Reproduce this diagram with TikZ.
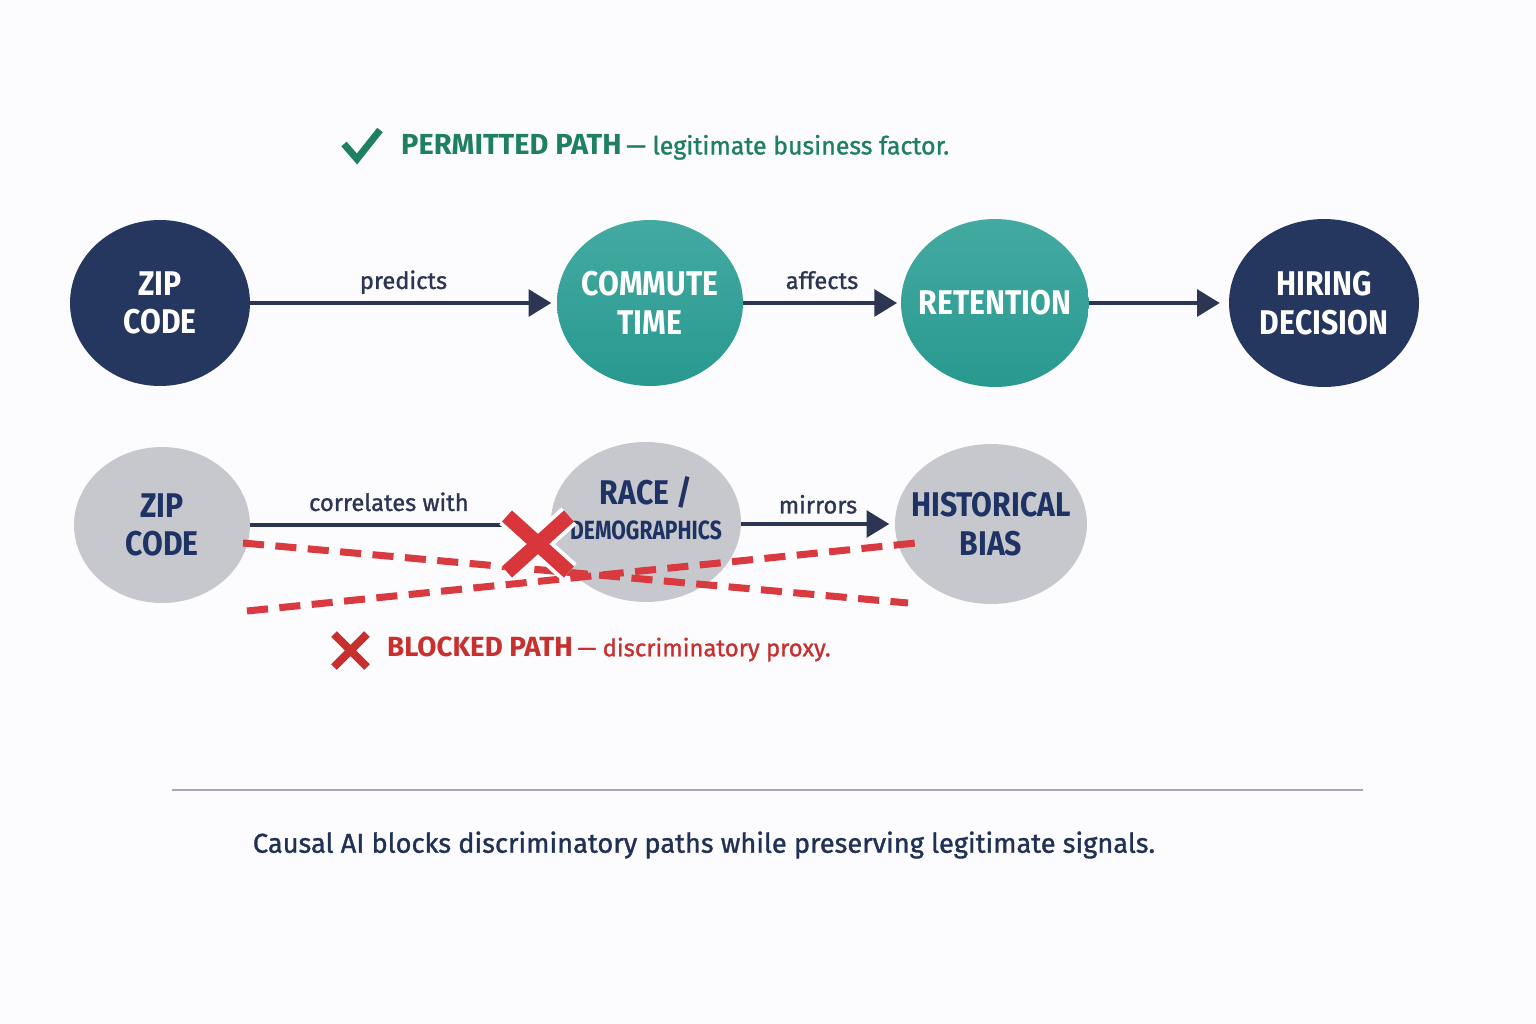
\documentclass[tikz,border=0pt]{standalone}
\usepackage{fontspec}
\setmainfont{Fira Sans}
\newfontfamily\nodefont[FakeStretch=0.88]{Fira Sans}
\newfontfamily\smallcapsfont[FakeStretch=0.8]{Fira Sans}
\newfontfamily\labelfont[FakeBold=1.2]{Fira Sans}
\usetikzlibrary{arrows.meta,shapes.geometric}

\definecolor{navy}{HTML}{25365F}
\definecolor{teal}{HTML}{2A9E94}
\definecolor{fog}{HTML}{C6C8CD}
\definecolor{ink}{HTML}{1E3264}
\definecolor{shaft}{HTML}{2C3652}
\definecolor{okgreen}{HTML}{1E7F62}
\definecolor{nored}{HTML}{C8302F}
\definecolor{dashred}{HTML}{D83A3F}
\definecolor{crossred}{HTML}{D8363A}
\definecolor{rule}{HTML}{A3A7B8}
\definecolor{paper}{HTML}{FCFCFE}

\tikzset{
  causenode/.style={ellipse, inner sep=0pt, draw=none},
  darknode/.style={causenode, fill=navy},
  tealnode/.style={causenode, top color=teal!88!white, bottom color=teal!97!black},
  fognode/.style={causenode, fill=fog},
  whitetext/.style={text=white, font=\nodefont\bfseries\fontsize{19.5}{22}\selectfont, align=center},
  inktext/.style={text=ink, font=\nodefont\bfseries\fontsize{19.5}{22}\selectfont, align=center},
  pathlink/.style={draw=shaft, line width=2.8pt},
  causearrow/.style={pathlink, -{Triangle[length=13pt,width=15pt]}},
  linklabel/.style={text=shaft, font=\labelfont\fontsize{13.5}{15}\selectfont, midway, anchor=base, yshift=8pt},
  proxyline/.style={draw=dashred, line width=4pt, dash pattern=on 12pt off 6.5pt},
}

\begin{document}
\begin{tikzpicture}[x=0.02cm, y=-0.02cm]
		%%%%% START %%%%%
		
		\fill[paper] (0, 0) rectangle (1536, 1024);
		\useasboundingbox (0, 0) rectangle (1536, 1024);
		
		% legend: permitted
		\draw[okgreen, line width=4pt, line join=miter] (344, 144) -- (357, 159) -- (380, 130);
		\node[anchor=west, text=okgreen] (okkey) at (395, 147)
			{{\bfseries\fontsize{16.5}{18}\selectfont PERMITTED PATH} {\labelfont\fontsize{14.2}{16}\selectfont — legitimate business factor.}};
		
		% permitted path
		\node[darknode, minimum width=3.6cm, minimum height=3.32cm,
			label={[whitetext]center:ZIP\\CODE}] (zipA) at (160, 303) {};
		\node[tealnode, minimum width=3.72cm, minimum height=3.32cm,
			label={[whitetext]center:COMMUTE\\TIME}] (commute) at (650, 303) {};
		\node[tealnode, minimum width=3.76cm, minimum height=3.36cm,
			label={[whitetext]center:RETENTION}] (retention) at (995, 303) {};
		\node[darknode, minimum width=3.8cm, minimum height=3.36cm,
			label={[whitetext]center:HIRING\\DECISION}] (hiring) at (1324, 303) {};
		
		\draw[causearrow, shorten >=3pt] (zipA.east) -- (commute.west) node[linklabel] {predicts};
		\draw[causearrow, shorten >=2pt] (commute.east) -- (retention.west) node[linklabel] {affects};
		\draw[causearrow, shorten >=5pt] (retention.east) -- (hiring.west);
		
		% blocked path
		\node[fognode, minimum width=3.52cm, minimum height=3.12cm,
			label={[inktext]center:ZIP\\CODE}] (zipB) at (162, 525) {};
		\node[fognode, minimum width=3.8cm, minimum height=3.2cm,
			label={[inktext, yshift=8pt]center:RACE /\\[-2pt]{\smallcapsfont\bfseries\fontsize{15}{17}\selectfont DEMOGRAPHICS}}] (race) at (646, 522) {};
		\node[fognode, minimum width=3.84cm, minimum height=3.2cm,
			label={[inktext]center:HISTORICAL\\BIAS}] (bias) at (991, 524) {};
		
		\coordinate (blockX) at (538, 544);
		\draw[pathlink, shorten >=14pt] (zipB.east) -- (zipB.east -| blockX) node[linklabel, xshift=-3pt] {correlates with};
		\draw[causearrow, shorten >=3pt] (race.east |- bias.west) -- (bias.west) node[linklabel, yshift=-2pt] {mirrors};
		
		\coordinate (proxyA) at (243, 543);
		\coordinate (proxyB) at (908, 603);
		\coordinate (proxyC) at (247, 611);
		\coordinate (proxyD) at (916, 543);
		\draw[proxyline] (proxyA) -- (proxyB);
		\draw[proxyline] (proxyC) -- (proxyD);
		
		\draw[white, line width=13pt] (507, 516) -- (569, 572) (569, 516) -- (507, 572);
		\draw[crossred, line width=8.5pt] (507, 516) -- (569, 572) (569, 516) -- (507, 572);
		
		% legend: blocked
		\draw[nored, line width=4.6pt] (334, 634) -- (367, 667) (367, 634) -- (334, 667);
		\node[anchor=west, text=nored] (nokey) at (381, 649)
			{{\bfseries\fontsize{15.8}{18}\selectfont BLOCKED PATH} {\labelfont\fontsize{13.6}{16}\selectfont — discriminatory proxy.}};
		
		% footer
		\draw[rule, line width=1.2pt] (172, 790) -- (1363, 790);
		\node[text=navy!90!black, font=\labelfont\fontsize{15.5}{18}\selectfont] (caption) at (704, 845)
			{Causal AI blocks discriminatory paths while preserving legitimate signals.};
		
		%%%%% END %%%%%
	\end{tikzpicture}
\end{document}
